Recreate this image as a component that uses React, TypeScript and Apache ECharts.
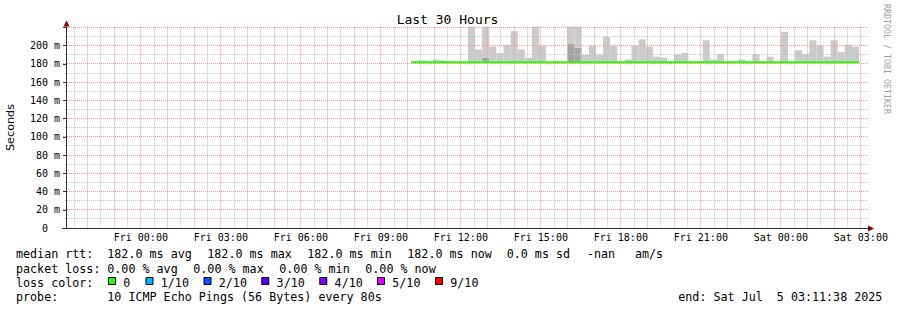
import React, { useEffect, useRef } from "react";
import * as echarts from "echarts";

// ---------- texts ----------
const TITLE = "Last 30 Hours";
const Y_AXIS_NAME = "Seconds";
const WATERMARK = "RRDTOOL / TOBI OETIKER";

// ---------- time axis (hours relative to Fri 00:00) ----------
const rangeHours = 30;
const rangeEndHour = 27 + 11 / 60 + 38 / 3600; // Sat 03:11:38
const xTickHours = [0, 3, 6, 9, 12, 15, 18, 21, 24, 27];
const xTickLabels = [
  "Fri 00:00", "Fri 03:00", "Fri 06:00", "Fri 09:00", "Fri 12:00",
  "Fri 15:00", "Fri 18:00", "Fri 21:00", "Sat 00:00", "Sat 03:00",
];

// ---------- value axis (ms) ----------
const yMax = 221;
const yStep = 20;

// ---------- data: 16-minute consolidated bins starting Fri 10:08 ----------
const firstBinHour = 10 + 8 / 60;
const binMinutes = 16;
const medianRtt = [
  182.0, 182.0, 182.0, 182.0, 182.0, 182.0, 182.0, 182.0, 182.0, 182.0,
  182.0, 182.0, 182.0, 182.0, 182.0, 182.0, 182.0, 182.0, 182.0, 182.0,
  182.0, 182.0, 182.0, 182.0, 182.0, 182.0, 182.0, 182.0, 182.0, 182.0,
  182.0, 182.0, 182.0, 182.0, 182.0, 182.0, 182.0, 182.0, 182.0, 182.0,
  182.0, 182.0, 182.0, 182.0, 182.0, 182.0, 182.0, 182.0, 182.0, 182.0,
  182.0, 182.0, 182.0, 182.0, 182.0, 182.0, 182.0, 182.0, 182.0, 182.0,
  182.0, 182.0, 182.0,
];
// highest ping of each bin (top of the light smoke), null = no smoke
const smokeTop = [
  null, 184, null, 185, 184, null, null, null, 225, 196,
  225, 199, 192, 201, 216, 196, 187, 225, 200, null,
  null, null, 225, 225, 190, 200, 190, 210, 200, null,
  185, 200, 207, 199, 188, 187, null, 190, 192, null,
  null, 206, 185, 191, null, null, 185, null, 191, null,
  188, null, 215, null, 195, 191, 206, 200, 188, 206,
  193, 201, 199,
];
// top of the darker (denser) smoke layer, null = none
const smokeDark = [
  null, null, null, null, null, null, null, null, null, null,
  187, null, null, null, null, null, null, null, null, null,
  null, null, 202, 197.5, null, null, null, null, null, null,
  null, null, null, null, null, null, null, null, null, null,
  null, null, null, null, null, null, null, null, null, null,
  null, null, null, null, null, null, null, null, null, null,
  null, null, null,
];

// ---------- legend ----------
const rttLabel = "median rtt:";
const rttStats = ["182.0 ms avg", "182.0 ms max", "182.0 ms min", "182.0 ms now", "0.0 ms sd", "-nan", "am/s"];
const lossLabel = "packet loss:";
const lossStats = ["0.00 % avg", "0.00 % max", "0.00 % min", "0.00 % now"];
const lossColorLabel = "loss color:";
const lossLabels = ["0", "1/10", "2/10", "3/10", "4/10", "5/10", "9/10"];
const lossColors = ["#26ff00", "#00b8ff", "#0059ff", "#5e00ff", "#7e00ff", "#dd00ff", "#ff0000"];
const probeLabel = "probe:";
const probeText = "10 ICMP Echo Pings (56 Bytes) every 80s";
const endText = "end: Sat Jul  5 03:11:38 2025";

// ---------- layout (positions only) ----------
const rttX = [107.3, 207.3, 307.3, 407.3, 506.7, 587, 635];
const lossX = [107.3, 193.3, 279.3, 365.3];
const swatchX = [108, 145.5, 203.5, 261.3, 319.3, 377, 435];
const rowY = [254.2, 268.6, 282.6, 296.6];

const MONO = '"DejaVu Sans Mono", monospace';
const SANS = '"DejaVu Sans", sans-serif';
const RED_GRID = "#f59595";
const GRAY_GRID = "#c4c4c4";
const SMOKE_LIGHT = "#cbcbcb";
const SMOKE_DARK = "#a3a3a3";

function txt(text: string, x: number, y: number, extra: any = {}, elExtra: any = {}) {
  return {
    type: "text",
    x,
    y,
    silent: true,
    z: 20,
    ...elExtra,
    style: {
      text: text.replace(/  /g, " \u00a0"),
      fill: "#000",
      fontFamily: MONO,
      fontSize: 11.7,
      textAlign: "left",
      textVerticalAlign: "middle",
      ...extra,
    },
  };
}

export default function App() {
  const ref = useRef<HTMLDivElement>(null);

  useEffect(() => {
    document.body.style.margin = "0";
    if (!ref.current) return;
    const chart = echarts.init(ref.current, null, { renderer: "svg" });

    const startHour = rangeEndHour - rangeHours;
    const binH = binMinutes / 60;

    // [x0, x1, lower, denseTop, top]
    const smokeData = medianRtt.map((m, i) => {
      const x0 = firstBinHour + i * binH;
      const x1 = x0 + binH;
      const top = smokeTop[i];
      const dark = smokeDark[i];
      return [x0, x1, m, dark == null ? m : dark, top == null ? m : top];
    });

    const lineData: any[] = [];
    medianRtt.forEach((m, i) => {
      lineData.push([firstBinHour + i * binH, m]);
      lineData.push([firstBinHour + (i + 1) * binH, m]);
    });

    // grid lines: [value, isMajor]
    const vGrid: any[] = [];
    for (let h = Math.ceil(startHour * 2) / 2; h <= rangeEndHour + 1e-9; h += 0.5) {
      vGrid.push([h, Math.abs(h - Math.round(h)) < 1e-9 ? 1 : 0]);
    }
    const hGrid: any[] = [];
    for (let v = yStep / 2; v < yMax; v += yStep / 2) {
      hGrid.push([v, Math.abs(v / yStep - Math.round(v / yStep)) < 1e-9 ? 1 : 0]);
    }

    const fmtX = (v: number) => {
      const i = xTickHours.findIndex((h) => Math.abs(h - v) < 1e-6);
      return i >= 0 ? xTickLabels[i] : "";
    };

    const renderSmoke = (params: any, api: any) => {
      const x0 = api.value(0);
      const x1 = api.value(1);
      const lo = api.value(2);
      const mid = api.value(3);
      const hi = api.value(4);
      const cs = params.coordSys;
      const clip = { x: cs.x, y: cs.y, width: cs.width, height: cs.height };
      const children: any[] = [];
      const mk = (a: number, b: number, fill: string) => {
        if (!(b > a)) return;
        const p0 = api.coord([x0, b]);
        const p1 = api.coord([x1, a]);
        const r = echarts.graphic.clipRectByRect(
          { x: p0[0], y: p0[1], width: p1[0] - p0[0], height: p1[1] - p0[1] },
          clip
        );
        if (r) children.push({ type: "rect", shape: r, style: { fill } });
      };
      mk(lo, mid, SMOKE_DARK);
      mk(mid, hi, SMOKE_LIGHT);
      return { type: "group", children };
    };

    const renderVGrid = (params: any, api: any) => {
      const cs = params.coordSys;
      const p = api.coord([api.value(0), 0]);
      const x = Math.floor(p[0]) + 0.5;
      return {
        type: "line",
        shape: { x1: x, y1: cs.y, x2: x, y2: cs.y + cs.height },
        style: { stroke: api.value(1) ? RED_GRID : GRAY_GRID, lineWidth: 1, lineDash: [1, 1] },
      };
    };
    const renderHGrid = (params: any, api: any) => {
      const cs = params.coordSys;
      const p = api.coord([rangeEndHour - rangeHours, api.value(0)]);
      const y = Math.floor(p[1]) + 0.5;
      return {
        type: "line",
        shape: { x1: cs.x - (api.value(1) ? 3 : 1), y1: y, x2: cs.x + cs.width + 2, y2: y },
        style: { stroke: api.value(1) ? RED_GRID : GRAY_GRID, lineWidth: 1, lineDash: [1, 1] },
      };
    };

    const graphic: any[] = [
      txt(TITLE, 447.5, 19.5, { fontSize: 13, textAlign: "center" }),
      txt(Y_AXIS_NAME, 10.5, 127.5, { fontFamily: SANS, fontSize: 11.2, textAlign: "center" }, { rotation: Math.PI / 2 }),
      txt(WATERMARK, 886.5, 59, { fontSize: 8.3, textAlign: "center", fill: "#a0a0a0" }, { rotation: -Math.PI / 2 }),
      // axis arrows and extensions
      { type: "line", silent: true, z: 15, shape: { x1: 62, y1: 228.5, x2: 66, y2: 228.5 }, style: { stroke: "#333", lineWidth: 1 } },
      { type: "line", silent: true, z: 15, shape: { x1: 866, y1: 228.5, x2: 869, y2: 228.5 }, style: { stroke: "#333", lineWidth: 1 } },
      { type: "polygon", silent: true, z: 16, shape: { points: [[63.5, 26.5], [69.5, 26.5], [66.5, 20.5]] }, style: { fill: "#7f0000" } },
      { type: "polygon", silent: true, z: 16, shape: { points: [[868, 225.5], [868, 231.5], [874, 228.5]] }, style: { fill: "#7f0000" } },
      // legend rows
      txt(rttLabel, 16, rowY[0]),
      ...rttStats.map((s, i) => txt(s, rttX[i], rowY[0])),
      txt(lossLabel, 16, rowY[1]),
      ...lossStats.map((s, i) => txt(s, lossX[i], rowY[1])),
      txt(lossColorLabel, 16, rowY[2]),
      ...lossLabels.map((s, i) => txt(s, swatchX[i] + 15.3, rowY[2])),
      ...lossColors.map((c, i) => ({
        type: "rect",
        silent: true,
        z: 20,
        shape: { x: swatchX[i] + 0.5, y: 277.5, width: 7, height: 7 },
        style: { fill: c, stroke: "#000", lineWidth: 1 },
      })),
      txt(probeLabel, 16, rowY[3]),
      txt(probeText, 107.3, rowY[3]),
      txt(endText, 678.3, rowY[3]),
    ];

    chart.setOption({
      animation: false,
      backgroundColor: "#ffffff",
      grid: { left: 66, right: 31, top: 26.6, bottom: 82, containLabel: false },
      xAxis: {
        type: "value",
        min: startHour,
        max: rangeEndHour,
        z: 8,
        axisLine: { show: true, onZero: false, lineStyle: { color: "#333", width: 1 } },
        axisTick: { show: false },
        splitLine: { show: false },
        axisLabel: {
          customValues: xTickHours,
          formatter: fmtX,
          fontFamily: MONO,
          fontSize: 10,
          color: "#000",
          margin: 4,
        },
      },
      yAxis: {
        type: "value",
        min: 0,
        max: yMax,
        interval: yStep,
        z: 8,
        axisLine: { show: true, onZero: false, lineStyle: { color: "#333", width: 1 } },
        axisTick: { show: true, length: 3, lineStyle: { color: "#333" } },
        axisLabel: {
          showMaxLabel: false,
          fontFamily: MONO,
          fontSize: 10,
          color: "#000",
          margin: 6,
          formatter: (v: number) => (v === 0 ? "{zero|0}" : v > 200 ? "" : `${v} m`),
          rich: { zero: { fontFamily: MONO, fontSize: 10, color: "#000", padding: [0, 12, 0, 0] } },
        },
        splitLine: { show: false },
        minorSplitLine: { show: false },
      },
      series: [
        {
          name: "smoke",
          type: "custom",
          z: 2,
          silent: true,
          renderItem: renderSmoke,
          encode: { x: [0, 1], y: [2, 3, 4] },
          data: smokeData,
        },
        {
          name: "vgrid",
          type: "custom",
          z: 4,
          silent: true,
          renderItem: renderVGrid,
          encode: { x: 0 },
          data: vGrid,
        },
        {
          name: "hgrid",
          type: "custom",
          z: 4,
          silent: true,
          renderItem: renderHGrid,
          encode: { y: 0 },
          data: hGrid,
        },
        {
          name: "median rtt",
          type: "line",
          z: 6,
          silent: true,
          symbol: "none",
          showSymbol: false,
          lineStyle: { color: "#26ff00", width: 2 },
          data: lineData,
        },
      ],
      graphic,
    });

    return () => chart.dispose();
  }, []);

  return <div ref={ref} style={{ width: 897, height: 310 }} />;
}
